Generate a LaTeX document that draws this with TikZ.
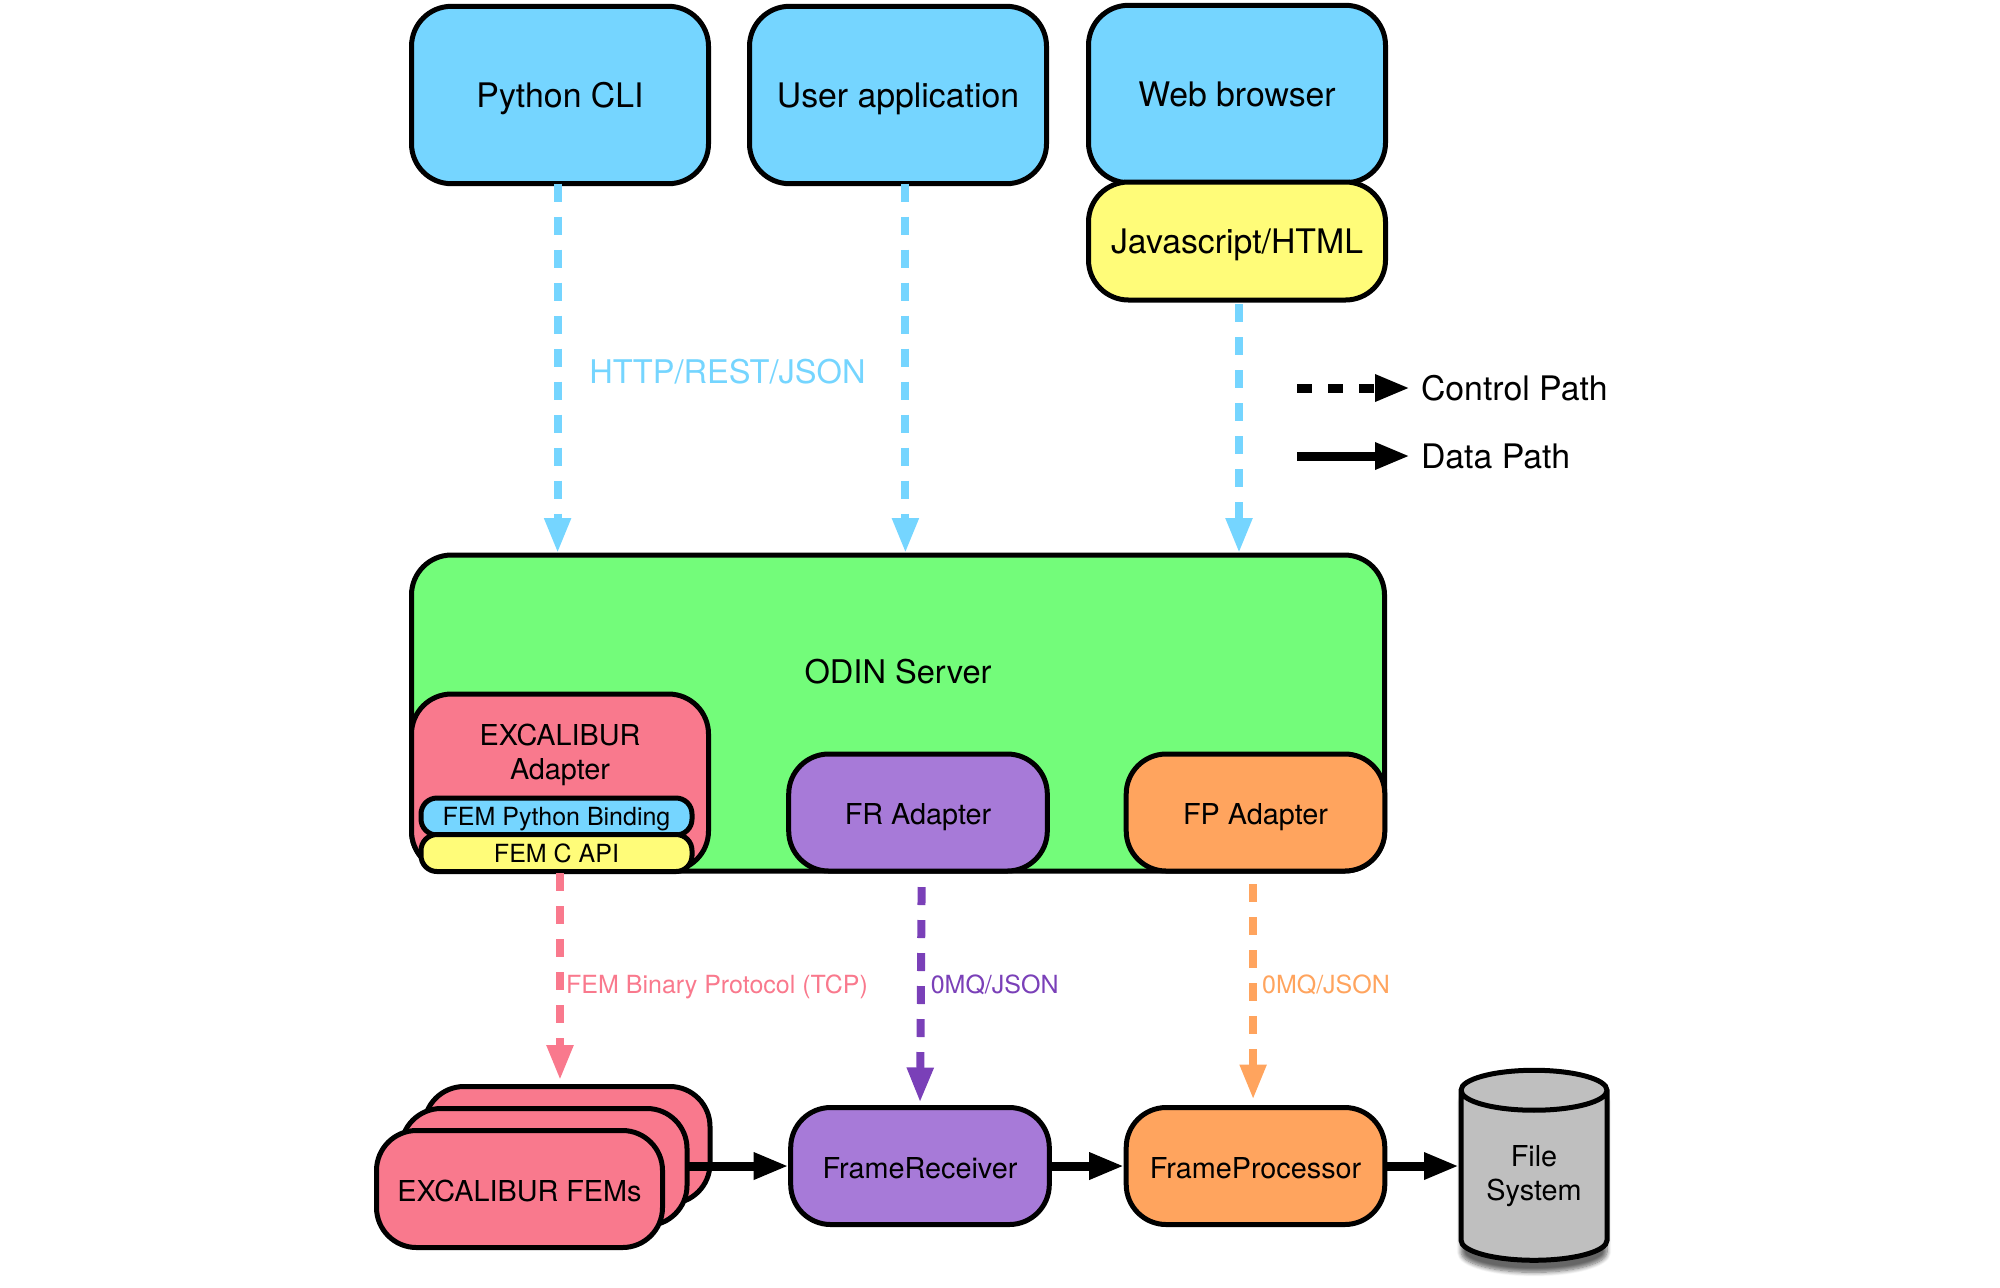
\documentclass[tikz,border=0pt]{standalone}
\usepackage{fontspec}
\setmainfont{TeX Gyre Heros}
\usetikzlibrary{arrows.meta, shapes.geometric, shadows.blur}

\definecolor{skyblue}{HTML}{75D5FF}
\definecolor{banana}{HTML}{FFFC79}
\definecolor{flora}{HTML}{73FC7A}
\definecolor{salmon}{HTML}{F9798D}
\definecolor{lavender}{HTML}{A77AD8}
\definecolor{tangerine}{HTML}{FFA45E}
\definecolor{grape}{HTML}{7A40B8}
\definecolor{silver}{HTML}{BFBFBF}

\newcommand{\bigtext}{\fontsize{16.9}{19}\selectfont}
\newcommand{\labeltext}{\fontsize{16.3}{19}\selectfont}
\newcommand{\midtext}{\fontsize{14.4}{17}\selectfont}
\newcommand{\smalltext}{\fontsize{12.5}{15}\selectfont}

\begin{document}
\begin{tikzpicture}[x=.5pt,y=-.5pt,>={Triangle[length=17.5pt,width=12.5pt]},
  block/.style={draw,line width=2.5pt,rounded corners=20pt,outer sep=0pt,inner sep=0pt,align=center,text height=12.2pt,text depth=0pt},
  client/.style={block,fill=skyblue,minimum width=148.5pt,minimum height=88.7pt,font=\bigtext,text height=12.9pt},
  adapter/.style={block,minimum width=129.3pt,minimum height=58.5pt,font=\midtext},
  pill/.style={block,rounded corners=8pt,minimum width=135.5pt,minimum height=18.5pt,font=\smalltext,text height=9pt},
  fem/.style={block,fill=salmon,minimum width=143pt,minimum height=58.5pt,font=\midtext},
  ctrl/.style={->,line width=4pt,dash pattern=on 9pt off 7.5pt,shorten >=1pt},
  data/.style={->,line width=4.5pt,shorten >=1pt},
  txt/.style={inner sep=0pt,outer sep=0pt}]

  \useasboundingbox (0,0) rectangle (2000,1287);

  % clients
  \node[client] (pycli) at (560,95) {Python CLI};
  \node[client] (usrapp) at (898,95) {User application};
  \node[client] (webbrowser) at (1237,94) {Web browser};
  \node[client,fill=banana,minimum height=59pt] (jshtml) at (1237,241) {Javascript/HTML};

  % server
  \node[block,fill=flora,minimum width=486.5pt,minimum height=158pt] (odin) at (898,713) {};
  \node[txt,font=\labeltext] (odinlabel) at (898,672) {ODIN Server};
  \node[block,fill=salmon,minimum width=148.5pt,minimum height=88.5pt] (excadapter) at (560,782.5) {};
  \node[txt,font=\midtext,align=center] (exclabel) at (560,755) {EXCALIBUR\\Adapter};
  \node[pill,fill=skyblue] (fempy) at (556.5,816.5) {FEM Python Binding};
  \node[pill,fill=banana] (femc) at (556.5,853) {FEM C API};
  \node[adapter,fill=lavender] (fradapter) at (918,812.5) {FR Adapter};
  \node[adapter,fill=tangerine] (fpadapter) at (1255.5,812.5) {FP Adapter};

  % data path
  \node[fem] (femback) at (567,1145) {};
  \node[fem] (femmid) at (544,1167) {};
  \node[fem] (femfront) at (519.5,1189) {EXCALIBUR FEMs};
  \node[adapter,fill=lavender] (framerx) at (920,1166) {FrameReceiver};
  \node[adapter,fill=tangerine] (framepr) at (1255.5,1166) {FrameProcessor};
  \node[cylinder,shape border rotate=90,aspect=.42,draw,line width=2.5pt,outer sep=0pt,inner sep=0pt,
    minimum width=73pt,minimum height=95pt,fill=silver,align=center,font=\midtext,
    blur shadow={shadow xshift=0pt,shadow yshift=-6pt,shadow blur steps=8,shadow opacity=60}] (filesys) at (1534,1176.5) {File\\System};

  % control path
  \path[skyblue]
        ([xshift=-1.2pt]pycli.south) edge[ctrl] ([xshift=-1.2pt]pycli.south |- odin.north)
        ([xshift=3.7pt]usrapp.south) edge[ctrl] ([xshift=3.7pt]usrapp.south |- odin.north)
        ([xshift=1pt,yshift=-2pt]jshtml.south) edge[ctrl] ([xshift=1pt]jshtml.south |- odin.north);
  \draw[ctrl,salmon,shorten >=3.2pt] ([yshift=-1pt]excadapter.south) -- (excadapter.south |- femback.north);
  \draw[ctrl,grape] ([xshift=1.8pt,yshift=-8pt]fradapter.south) -- ([yshift=1.5pt]framerx.north);
  \draw[ctrl,tangerine] ([xshift=-1.2pt,yshift=-6.5pt]fpadapter.south) -- ([xshift=-1.2pt,yshift=3pt]framepr.north);

  \node[txt,font=\labeltext,text=skyblue] (httplabel) at (727.5,372) {HTTP/REST/JSON};
  \node[txt,font=\smalltext,text=salmon] (femlabel) at (717,987) {FEM Binary Protocol (TCP)};
  \node[txt,font=\smalltext,text=grape] (frlabel) at (994.7,985) {0MQ/JSON};
  \node[txt,font=\smalltext,text=tangerine] (fplabel) at (1326,985) {0MQ/JSON};

  \path
        (femmid.east |- framerx.west) edge[data] (framerx.west)
        (framerx.east) edge[data] (framepr.west)
        (framepr.east) edge[data] (framepr.east -| filesys.west);

  % legend
  \node[txt,font=\bigtext,anchor=west] (ctrllabel) at (1421,388) {Control Path};
  \node[txt,font=\bigtext,anchor=west] (datalabel) at (1421,456) {Data Path};
  \coordinate (ctrlstart) at (1297,388);
  \coordinate (datastart) at (1297,456);
  \draw[data,dash pattern=on 7.5pt off 8pt,shorten >=5.5pt] (ctrlstart) -- (ctrllabel.west);
  \draw[data,shorten >=5.5pt] (datastart) -- (datalabel.west);

\end{tikzpicture}
\end{document}
